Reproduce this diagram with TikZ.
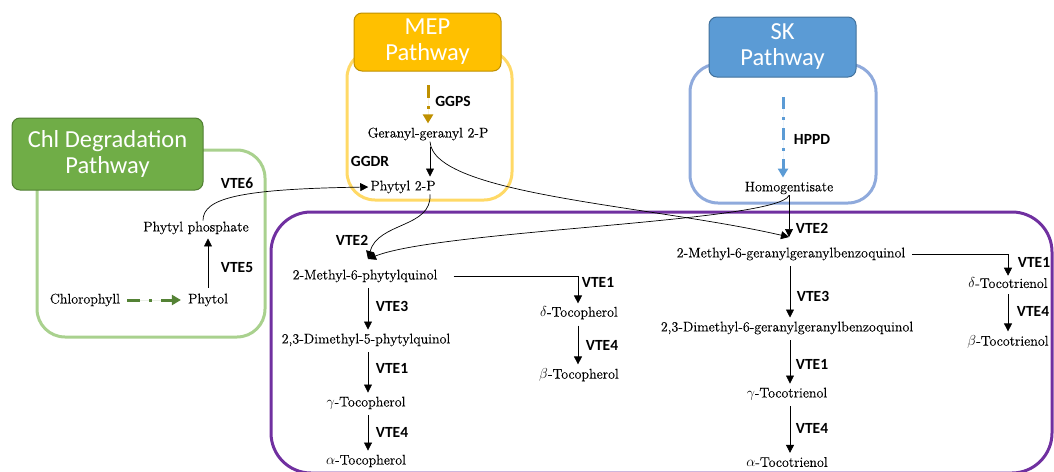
\documentclass[tikz,border=0pt]{standalone}
\usepackage{fontspec}
\newfontfamily\calibfont{Carlito}
\newfontfamily\chemfont[FakeBold=0.3]{Latin Modern Roman}
\usetikzlibrary{arrows.meta}
\definecolor{chlfill}{HTML}{70AD47}
\definecolor{chldark}{HTML}{507E32}
\definecolor{chlline}{HTML}{A9D18E}
\definecolor{chlarrow}{HTML}{548235}
\definecolor{mepfill}{HTML}{FFC000}
\definecolor{mepdark}{HTML}{BF9000}
\definecolor{mepline}{HTML}{FFD966}
\definecolor{skfill}{HTML}{5B9BD5}
\definecolor{skdark}{HTML}{41719C}
\definecolor{skline}{HTML}{8FAADC}
\definecolor{vteline}{HTML}{7030A0}
\begin{document}
\begin{tikzpicture}[x=1pt,y=-1pt,
  chem/.style={font=\chemfont\fontsize{14}{16}\selectfont, inner sep=1pt},
  enz/.style={font=\calibfont\bfseries\fontsize{15.5}{18}\selectfont, inner sep=0pt},
  head/.style={rounded corners=8pt, line width=1pt, text=white,
    font=\calibfont\fontsize{24.5}{26}\selectfont, align=center, inner sep=0pt},
  frame/.style={rounded corners=28pt, line width=3pt},
  rxn/.style={-{Triangle[length=8pt,width=8pt]}, line width=0.7pt},
  vstep/.style={rxn, shorten <=5pt, shorten >=3pt},
  dashflow/.style={line width=3pt, -{Triangle[length=9pt,width=10pt]}}]
\useasboundingbox (0,0) rectangle (1054,471);

% pathway frames
\draw[frame, draw=chlline] (37,150) rectangle (265,337);
\draw[frame, draw=mepline] (347,50) rectangle (512,200);
\draw[frame, draw=skline] (690,64) rectangle (876,203);
\draw[frame, rounded corners=40pt, draw=vteline] (271,212) rectangle (1052,473);

% pathway headers
\node[head, fill=chlfill, draw=chldark, minimum width=191pt, minimum height=72pt]
  (chlhead) at (107.5,154) {Chl Degradation\\Pathway};
\node[head, fill=mepfill, draw=mepdark, minimum width=147pt, minimum height=58pt]
  (mephead) at (427.5,42) {MEP\\Pathway};
\node[head, fill=skfill, draw=skdark, minimum width=147pt, minimum height=60pt]
  (skhead) at (782.5,47) {SK\\Pathway};

% metabolites
\node[chem] (chl)   at (85,300)  {Chlorophyll};
\node[chem] (phytol) at (208,300) {Phytol};
\node[chem] (pp)    at (196,228) {Phytyl phosphate};
\node[chem] (ggpp)  at (428,134) {Geranyl-geranyl 2-P};
\node[chem] (p2p)   at (403,187) {Phytyl 2-P};
\node[chem] (hga)   at (789,188) {Homogentisate};
\node[chem] (mpq)   at (365,276) {2-Methyl-6-phytylquinol};
\node[chem] (dmpq)  at (366,340) {2,3-Dimethyl-5-phytylquinol};
\node[chem] (gtp)   at (366,403) {$\gamma$-Tocopherol};
\node[chem] (atp)   at (366,461) {$\alpha$-Tocopherol};
\node[chem] (dtp)   at (579,313) {$\delta$-Tocopherol};
\node[chem] (btp)   at (579,375) {$\beta$-Tocopherol};
\node[chem] (mgg)   at (791,254) {2-Methyl-6-geranylgeranylbenzoquinol};
\node[chem] (dmgg)  at (787,328) {2,3-Dimethyl-6-geranylgeranylbenzoquinol};
\node[chem] (gt3)   at (787,394) {$\gamma$-Tocotrienol};
\node[chem] (at3)   at (787,462) {$\alpha$-Tocotrienol};
\node[chem] (dt3)   at (1008,283) {$\delta$-Tocotrienol};
\node[chem] (bt3)   at (1008,342) {$\beta$-Tocotrienol};

% enzymes
\node[enz] (vte6)  at (237,183) {VTE6};
\node[enz] (vte5)  at (237,268) {VTE5};
\node[enz] (ggps)  at (453,101) {GGPS};
\node[enz] (ggdr)  at (370,161) {GGDR};
\node[enz] (hppd)  at (812,139) {HPPD};
\node[enz] (vte2a) at (352,240) {VTE2};
\node[enz] (vte2b) at (812,228) {VTE2};
\node[enz] (vte3a) at (392,306) {VTE3};
\node[enz] (vte1a) at (392,368) {VTE1};
\node[enz] (vte4a) at (392,432) {VTE4};
\node[enz] (vte1b) at (598,282) {VTE1};
\node[enz] (vte4b) at (602,345) {VTE4};
\node[enz] (vte3b) at (813,296) {VTE3};
\node[enz] (vte1c) at (812,364) {VTE1};
\node[enz] (vte4c) at (812,428) {VTE4};
\node[enz] (vte1d) at (1034,262) {VTE1};
\node[enz] (vte4d) at (1033,311) {VTE4};

% end points of the multistep pathways and the VTE2 condensations
\coordinate (ggpsin) at (428,85);
\coordinate (hppdin) at (783,97);
\coordinate (vte2L) at (368,259);
\coordinate (vte2R) at (789,237);

% chlorophyll degradation
\draw[dashflow, draw=chlarrow, fill=chlarrow, dash pattern=on 13pt off 9pt on 3pt off 9pt]
  ([xshift=6pt]chl.east) -- ([xshift=-6pt]phytol.west);
\draw[vstep] (phytol.north) -- (phytol.north |- pp.south);
\draw[rxn] ([xshift=7pt]pp.north) .. controls (203,198) and (240,189) .. ([xshift=-1pt]p2p.west);

% MEP pathway
\draw[dashflow, draw=mepdark, fill=mepdark, dash pattern=on 13pt off 8pt on 3pt off 6pt]
  (ggpsin) -- ([yshift=3pt]ggpp.north);
\draw[vstep] ([xshift=2pt]ggpp.south) -- ([xshift=2pt]ggpp.south |- p2p.north);

% SK pathway
\draw[dashflow, draw=skfill, fill=skfill, dash pattern=on 12pt off 8pt on 3pt off 8pt]
  (hppdin) -- ([yshift=3pt,xshift=-6pt]hga.north);

% prenyl transfers
\draw[rxn] ([xshift=27pt]p2p.south) .. controls (432,228) and (378,222) .. (vte2L);
\draw[rxn] (hga.south) .. controls (778,222) and (440,230) .. (vte2L);
\draw[rxn] (hga.south) -- (vte2R);
\draw[rxn] ([xshift=2pt]ggpp.south) .. controls (433,195) and (650,205) .. (vte2R);

% tocopherols
\draw[vstep] ([xshift=3pt]mpq.south) -- ([xshift=3pt]mpq.south |- dmpq.north);
\draw[vstep] ([xshift=2pt]dmpq.south) -- ([xshift=2pt]dmpq.south |- gtp.north);
\draw[vstep] ([xshift=2pt]gtp.south) -- ([xshift=2pt]gtp.south |- atp.north);
\draw[rxn, shorten >=2pt] ([xshift=15pt]mpq.east) -| ([xshift=-1pt]dtp.north);
\draw[vstep] ([xshift=-1pt]dtp.south) -- ([xshift=-1pt]dtp.south |- btp.north);

% tocotrienols
\draw[vstep] ([xshift=-1pt]mgg.south) -- ([xshift=-1pt]mgg.south |- dmgg.north);
\draw[vstep] ([xshift=3pt]dmgg.south) -- ([xshift=3pt]dmgg.south |- gt3.north);
\draw[vstep] ([xshift=3pt]gt3.south) -- ([xshift=3pt]gt3.south |- at3.north);
\draw[rxn, shorten >=1pt] ([xshift=6pt]mgg.east) -| (dt3.north);
\draw[vstep] (dt3.south) -- (dt3.south |- bt3.north);
\end{tikzpicture}
\end{document}
